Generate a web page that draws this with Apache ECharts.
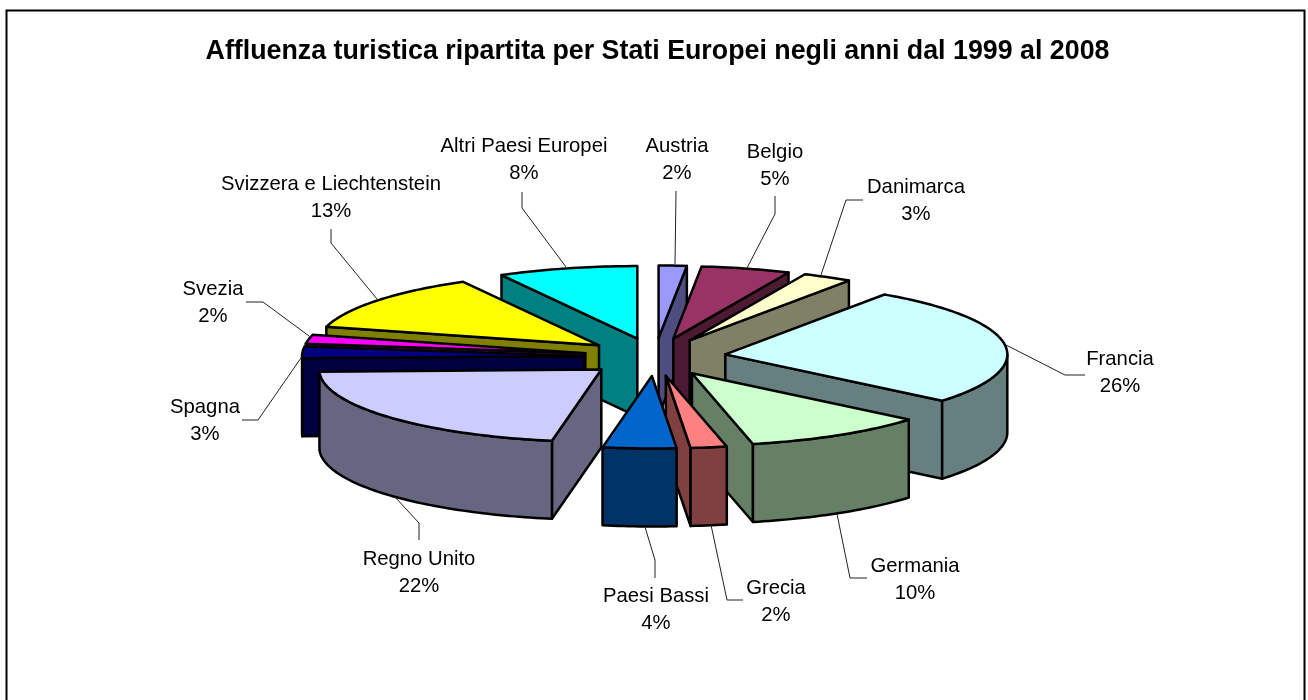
<!DOCTYPE html>
<html>
<head>
<meta charset="utf-8">
<style>html,body{margin:0;padding:0;background:#fff}#c{width:1308px;height:700px}</style>
<script src="https://cdn.jsdelivr.net/npm/echarts@6/dist/echarts.min.js"></script>
</head>
<body>
<div id="c"></div>
<script>
const chartTitle = 'Affluenza turistica ripartita per Stati Europei negli anni dal 1999 al 2008';
const categories = ['Austria','Belgio','Danimarca','Francia','Germania','Grecia','Paesi Bassi','Regno Unito','Spagna','Svezia','Svizzera e Liechtenstein','Altri Paesi Europei'];
const shares = [1.6,5.1,2.85,26.49,10.49,2.07,4.2,21.7,2.6,2.0,12.9,8.0];
const topColors = ['#9999FF','#993366','#FFFFCC','#CCFFFF','#CCFFCC','#FF8080','#0066CC','#CCCCFF','#000080','#FF00FF','#FFFF00','#00FFFF'];
const sideColors = ['#4D4D80','#4D1A33','#808066','#668080','#668066','#804040','#003366','#666680','#000040','#800080','#808000','#008080'];
// label anchors (centre x, first-line y) and leader paths, one per category
const labelAnchors = [[677,146],[775,152],[916,187],[1120,359],[915,566],[776,588],[656,596],[419,559],[205,407],[213,289],[331,184],[524,146]];
const leaderPaths = [
 [[676,191],[675,264]],
 [[775,196],[775,214],[747,268]],
 [[863,200],[846,200],[821,275]],
 [[1085,375],[1065,375],[1006,345]],
 [[867,578],[850,578],[837,514]],
 [[743,600],[727,600],[711,525]],
 [[655,578],[655,560],[645,527]],
 [[419,540],[419,523],[395,497]],
 [[242,420],[258,420],[303,355]],
 [[246,302],[263,302],[309,336]],
 [[331,229],[331,243],[377,299]],
 [[522,192],[522,208],[566,267]]
];
const geom = {cx:655, cy:357, rx:282, ry:72.5, depth:78, ex:71, ey:19};
const FONT = '"Liberation Sans", Arial, sans-serif';

const total = shares.reduce((a,b)=>a+b,0);
let acc = 0;
const slices = shares.map(v=>{
  const a = acc/total*Math.PI*2; acc += v; const b = acc/total*Math.PI*2;
  const m = (a+b)/2;
  return {a,b,m,ax:geom.cx+geom.ex*Math.sin(m),ay:geom.cy-geom.ey*Math.cos(m)};
});
const order = slices.map((s,i)=>i).sort((p,q)=>Math.cos(slices[q].m)-Math.cos(slices[p].m));
const rank = {}; order.forEach((i,r)=>rank[i]=r);

function arcPts(s,from,to,dy){
  const n = Math.max(2,Math.ceil((to-from)/0.02)), pts=[];
  for(let k=0;k<=n;k++){
    const t = from+(to-from)*k/n;
    pts.push([s.ax+geom.rx*Math.sin(t), s.ay-geom.ry*Math.cos(t)+dy]);
  }
  return pts;
}
function renderItem(params, api){
  const i = params.dataIndex, s = slices[i], z = rank[i]*10+1, d = geom.depth;
  const st = {fill:sideColors[i],stroke:'#000',lineWidth:2.5,lineJoin:'round'};
  const kids = [];
  const wall = t => {
    const p=[s.ax+geom.rx*Math.sin(t), s.ay-geom.ry*Math.cos(t)];
    return [[s.ax,s.ay],p,[p[0],p[1]+d],[s.ax,s.ay+d]];
  };
  if(Math.sin(s.a)<0) kids.push({type:'polygon',z2:z,shape:{points:wall(s.a)},style:st});
  if(Math.sin(s.b)>0) kids.push({type:'polygon',z2:z+1,shape:{points:wall(s.b)},style:st});
  const f=Math.max(s.a,Math.PI/2), t=Math.min(s.b,Math.PI*1.5);
  if(t>f){
    const rim = arcPts(s,f,t,0).concat(arcPts(s,f,t,d).reverse());
    kids.push({type:'polygon',z2:z+2,shape:{points:rim},style:st});
  }
  const top=[[s.ax,s.ay]].concat(arcPts(s,s.a,s.b,0));
  kids.push({type:'polygon',z2:z+3,shape:{points:top},style:Object.assign({},st,{fill:topColors[i]})});
  kids.push({type:'polyline',z2:5000,shape:{points:leaderPaths[i]},style:{fill:null,stroke:'#222',lineWidth:1}});
  const pct=Math.round(api.value(0)/total*100)+'%';
  const [lx,ly]=labelAnchors[i];
  [categories[i],pct].forEach((txt,k)=>kids.push({type:'text',z2:5001,x:lx,y:ly+k*27,
    style:{text:txt,font:'20.3px '+FONT,fill:'#000',align:'center',verticalAlign:'middle'}}));
  return {type:'group',children:kids};
}
const chart = echarts.init(document.getElementById('c'),null,{renderer:'canvas'});
chart.setOption({
  animation:false,
  backgroundColor:'#fff',
  title:{text:chartTitle,left:652.5,top:33,textAlign:'center',textStyle:{fontFamily:FONT,fontSize:26.8,fontWeight:'bold',color:'#000'}},
  graphic:[{type:'rect',silent:true,shape:{x:6.5,y:10.5,width:1298,height:720},style:{fill:'none',stroke:'#000',lineWidth:2}}],
  series:[{type:'custom',coordinateSystem:'none',silent:true,renderItem,data:shares.map((v,i)=>({value:[v],name:categories[i]}))}]
});
</script>
</body>
</html>
